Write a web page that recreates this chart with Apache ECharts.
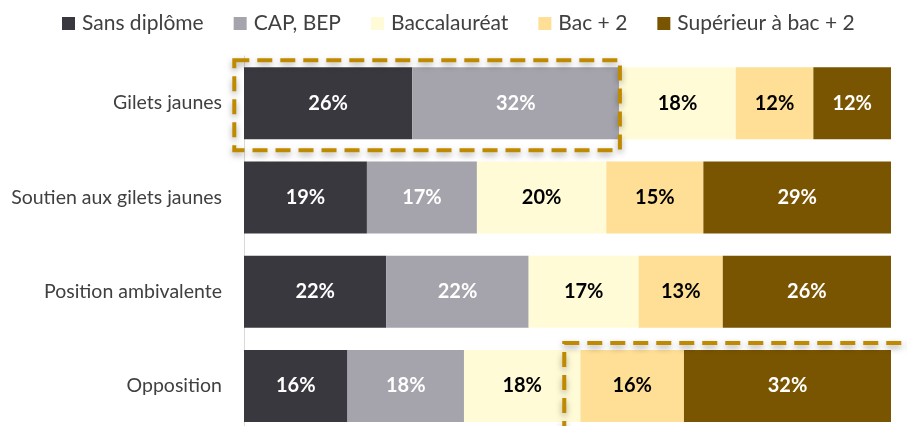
<!DOCTYPE html>
<html>
<head>
<meta charset="utf-8">
<script src="https://cdn.jsdelivr.net/npm/echarts@6/dist/echarts.min.js"></script>
<style>
    html,body{margin:0;padding:0;background:#fff;overflow:hidden;}
    #chart{width:907px;height:440px;}
</style>
</head>
<body>
<div id="chart"></div>
<script>
    // catégories (de haut en bas)
    var categories = ['Gilets jaunes', 'Soutien aux gilets jaunes', 'Position ambivalente', 'Opposition'];
    var seriesNames = ['Sans diplôme', 'CAP, BEP', 'Baccalauréat', 'Bac + 2', 'Supérieur à bac + 2'];
    var sansDiplome = [26, 19, 22, 16];
    var capBep = [32, 17, 22, 18];
    var baccalaureat = [18, 20, 17, 18];
    var bac2 = [12, 15, 13, 16];
    var superieur = [12, 29, 26, 32];

    var colors = ['#3a383f', '#a5a4ac', '#fffbd7', '#fedf95', '#7a5501'];
    var labelColors = ['#fff', '#fff', '#000', '#000', '#fff'];
    var values = [sansDiplome, capBep, baccalaureat, bac2, superieur];
    var font = 'Lato';

    // le bas du graphique est coupé dans l'original : conteneur plus haut que la fenêtre
    var chart = echarts.init(document.getElementById('chart'));

    var series = [];
    for (var i = 0; i < seriesNames.length; i++) {
        series.push({
            name: seriesNames[i],
            type: 'bar',
            stack: 'total',
            barWidth: 72,
            data: values[i],
            itemStyle: {color: colors[i]},
            label: {
                show: true,
                formatter: '{c}%',
                color: labelColors[i],
                fontFamily: font,
                fontWeight: 'bold',
                fontSize: 20
            }
        });
    }

    chart.setOption({
        animation: false,
        color: colors,
        legend: {
            top: 8,
            left: 57,
            itemWidth: 13,
            itemHeight: 13,
            itemGap: 30,
            icon: 'rect',
            textStyle: {color: '#404040', fontFamily: font, fontSize: 21, padding: [0, 0, 0, 2]},
            data: seriesNames
        },
        grid: {left: 244, right: 16, top: 56, bottom: 7},
        xAxis: {
            type: 'value',
            min: 0,
            max: 100,
            show: false
        },
        yAxis: {
            type: 'category',
            inverse: true,
            data: categories,
            axisTick: {show: false},
            axisLine: {lineStyle: {color: '#d9d9d9'}},
            axisLabel: {color: '#404040', fontFamily: font, fontSize: 19.5, margin: 22}
        },
        series: series
    });

    // cadres en pointillés
    function frame(x0, x1, cat) {
        var p0 = chart.convertToPixel({gridIndex: 0}, [x0, cat]);
        var p1 = chart.convertToPixel({gridIndex: 0}, [x1, cat]);
        return {
            type: 'rect',
            shape: {x: p0[0], y: p0[1] - 43, width: p1[0] - p0[0], height: 90},
            style: {
                fill: 'none',
                stroke: '#bf8a00',
                lineWidth: 4,
                lineDash: [15, 8],
                shadowBlur: 6,
                shadowColor: 'rgba(0,0,0,0.35)',
                shadowOffsetY: 3
            },
            z: 100
        };
    }
    chart.setOption({
        graphic: [
            frame(-1.5, 58.1, 'Gilets jaunes'),
            frame(49.5, 105, 'Opposition')
        ]
    });
</script>
</body>
</html>
